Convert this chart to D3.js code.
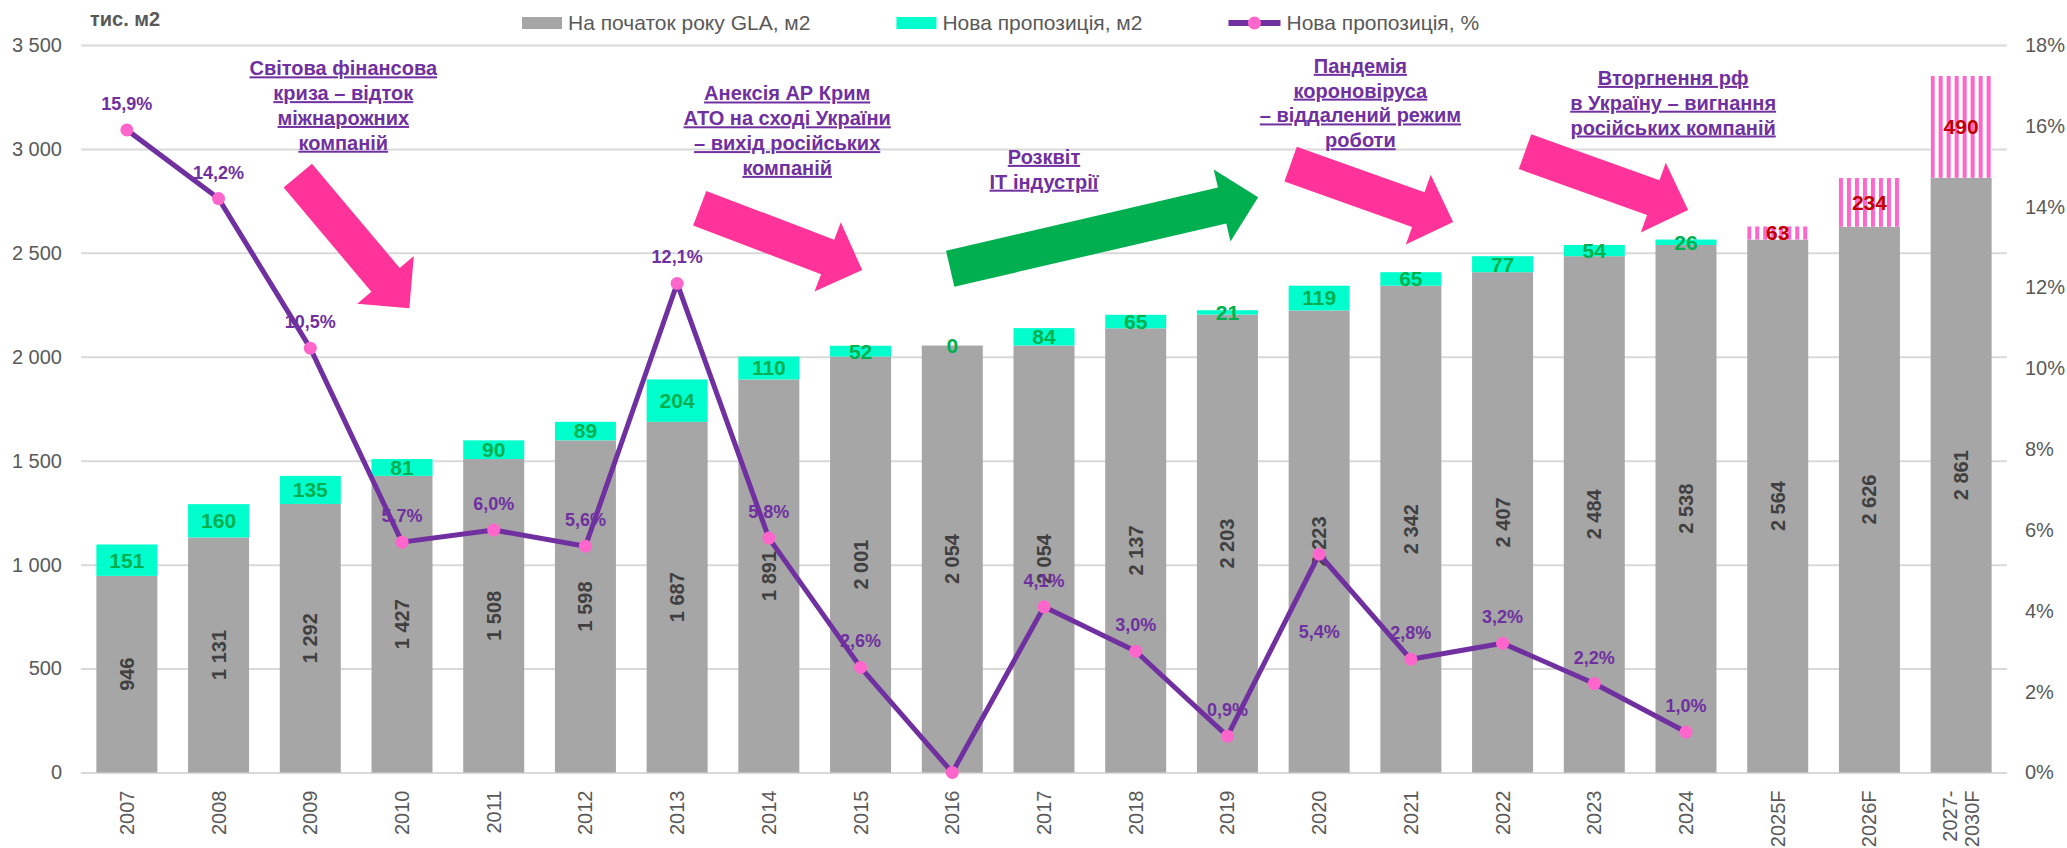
<!DOCTYPE html>
<html lang="uk">
<head>
    <meta charset="UTF-8">
    <title>Офісна пропозиція</title>
    <script src="https://cdnjs.cloudflare.com/ajax/libs/d3/7.8.5/d3.min.js"></script>
    <style>
        body { margin: 0; background: #fff; }
        svg { display: block; font-family: 'Liberation Sans', Arial, sans-serif; }
    </style>
</head>
<body>
    <div class="chart"></div>
<script>
    const categories = ['2007', '2008', '2009', '2010', '2011', '2012', '2013', '2014', '2015', '2016',
        '2017', '2018', '2019', '2020', '2021', '2022', '2023', '2024', '2025F', '2026F', '2027-2030F']
    const baseGLA = [946, 1131, 1292, 1427, 1508, 1598, 1687, 1891, 2001, 2054,
        2054, 2137, 2203, 2223, 2342, 2407, 2484, 2538, 2564, 2626, 2861]
    const newSupply = [151, 160, 135, 81, 90, 89, 204, 110, 52, 0, 84, 65, 21, 119, 65, 77, 54, 26]
    const forecastSupply = [63, 234, 490]
    const newSharePct = [15.9, 14.2, 10.5, 5.7, 6.0, 5.6, 12.1, 5.8, 2.6, 0, 4.1, 3.0, 0.9, 5.4, 2.8, 3.2, 2.2, 1.0]
    const leftTicks = [0, 500, 1000, 1500, 2000, 2500, 3000, 3500]
    const rightTicks = [0, 2, 4, 6, 8, 10, 12, 14, 16, 18]
    const legendLabels = ['На початок року GLA, м2', 'Нова пропозиція, м2', 'Нова пропозиція, %']

    // подiї на графiку: позиція в одиницях осей (індекс року, тис. м2)
    const notes = [
        { lines: ['Світова фінансова', 'криза – відток', 'міжнарожних', 'компаній'], at: [2.36, 3354] },
        { lines: ['Анексія АР Крим', 'АТО на сході України', '– вихід російських', 'компаній'], at: [7.2, 3233] },
        { lines: ['Розквіт', 'IT індустрії'], at: [10.0, 2928] },
        { lines: ['Пандемія', 'короновіруса', '– віддалений режим', 'роботи'], at: [13.45, 3366] },
        { lines: ['Вторгнення рф', 'в Україну – вигнання', 'російських компаній'], at: [16.86, 3308] }
    ]
    const arrows = [
        { from: [1.864, 2872], to: [3.08, 2234], color: '#FF3399' },
        { from: [6.246, 2715], to: [8.018, 2417], color: '#FF3399' },
        { from: [8.977, 2424], to: [12.335, 2768], color: '#00B050' },
        { from: [12.689, 2927], to: [14.461, 2648], color: '#FF3399' },
        { from: [15.245, 2987], to: [17.023, 2706], color: '#FF3399' }
    ]

    const width = 2067
    const height = 848
    const margin = { top: 45, right: 60, bottom: 75.5, left: 81 }
    const colors = { base: '#A6A6A6', add: '#00FFCC', stripe: '#FF66CC', line: '#7030A0', dot: '#FF66CC',
        grid: '#D9D9D9', axis: '#595959', addText: '#00B050', fcText: '#C00000', baseText: '#404040' }

    const locale = d3.formatLocale({ decimal: ',', thousands: '\u00a0', grouping: [3], currency: ['', ''] })
    const fmtInt = locale.format(',d')
    const fmtPct = v => locale.format('.1f')(v) + '%'

    const nFact = newSupply.length
    const rows = categories.map((c, i) => ({
        cat: c,
        base: baseGLA[i],
        add: i < nFact ? newSupply[i] : forecastSupply[i - nFact],
        forecast: i >= nFact
    }))
    const stacked = d3.stack().keys(['base', 'add'])(rows)

    const x = d3.scaleBand().domain(categories)
        .range([margin.left, width - margin.right])
        .paddingInner(0.335).paddingOuter(0.1675)
    const y = d3.scaleLinear().domain([0, 3500]).range([height - margin.bottom, margin.top])
    const y2 = d3.scaleLinear().domain([0, 18]).range([height - margin.bottom, margin.top])
    const cx = i => x(categories[0]) + x.bandwidth() / 2 + i * x.step()

    const svg = d3.select('.chart').append('svg')
        .attr('width', width).attr('height', height)

    // штрихування для прогнозу
    const defs = svg.append('defs')
    defs.selectAll('pattern').data(rows.filter(d => d.forecast)).join('pattern')
        .attr('id', (d, i) => 'stripes' + i)
        .attr('patternUnits', 'userSpaceOnUse')
        .attr('x', d => x(d.cat)).attr('width', 8).attr('height', 8)
        .call(p => {
            p.append('rect').attr('width', 8).attr('height', 8).attr('fill', '#fff')
            p.append('rect').attr('width', 4).attr('height', 8).attr('fill', colors.stripe)
        })

    // ліва вісь + сітка
    svg.append('g')
        .attr('transform', `translate(${margin.left},0)`)
        .call(d3.axisLeft(y).tickValues(leftTicks).tickFormat(fmtInt)
            .tickSizeInner(-(width - margin.left - margin.right)).tickSizeOuter(0).tickPadding(19))
        .call(g => g.select('.domain').remove())
        .call(g => g.selectAll('line').attr('stroke', colors.grid).attr('stroke-width', 2))
        .call(g => g.selectAll('text').attr('fill', colors.axis).attr('font-size', 20))

    // права вісь
    svg.append('g')
        .attr('transform', `translate(${width - margin.right},0)`)
        .call(d3.axisRight(y2).tickValues(rightTicks).tickFormat(d => d + '%').tickSize(0).tickPadding(18))
        .call(g => g.select('.domain').remove())
        .call(g => g.selectAll('text').attr('fill', colors.axis).attr('font-size', 20))

    // нижня вісь
    svg.append('g')
        .attr('transform', `translate(0,${height - margin.bottom})`)
        .call(d3.axisBottom(x).tickSize(0))
        .call(g => g.select('.domain').remove())
        .call(g => g.selectAll('text')
            .attr('fill', colors.axis).attr('font-size', 20)
            .attr('transform', 'rotate(-90)')
            .attr('text-anchor', 'end')
            .attr('x', -18).attr('y', 0).attr('dy', null)
            .each(function (d) {
                const parts = d.includes('-') ? [d.split('-')[0] + '-', d.split('-')[1]] : [d]
                const t = d3.select(this).text(null)
                parts.forEach((p, k) => {
                    t.append('tspan').attr('x', -18)
                        .attr('dy', k === 0 ? (parts.length > 1 ? '-0.2em' : '0.35em') : '1.1em')
                        .text(p)
                })
            }))

    // стовпці
    const bars = svg.append('g')
    bars.selectAll('rect.base').data(stacked[0]).join('rect')
        .attr('class', 'base')
        .attr('x', d => x(d.data.cat)).attr('width', x.bandwidth())
        .attr('y', d => y(d[1])).attr('height', d => y(d[0]) - y(d[1]))
        .attr('fill', colors.base)
    let fc = 0
    bars.selectAll('rect.add').data(stacked[1]).join('rect')
        .attr('class', 'add')
        .attr('x', d => x(d.data.cat)).attr('width', x.bandwidth())
        .attr('y', d => y(d[1])).attr('height', d => y(d[0]) - y(d[1]))
        .attr('fill', d => d.data.forecast ? `url(#stripes${fc++})` : colors.add)

    // підписи стовпців
    bars.selectAll('text.base').data(stacked[0]).join('text')
        .attr('class', 'base')
        .attr('transform', d => `translate(${x(d.data.cat) + x.bandwidth() / 2},${(y(d[0]) + y(d[1])) / 2}) rotate(-90)`)
        .attr('text-anchor', 'middle').attr('dy', '0.35em')
        .attr('font-size', 20).attr('font-weight', 'bold').attr('fill', colors.baseText)
        .text(d => fmtInt(d.data.base))
    bars.selectAll('text.add').data(stacked[1]).join('text')
        .attr('class', 'add')
        .attr('x', d => x(d.data.cat) + x.bandwidth() / 2)
        .attr('y', d => (y(d[0]) + y(d[1])) / 2)
        .attr('text-anchor', 'middle').attr('dy', '0.35em')
        .attr('font-size', 21).attr('font-weight', 'bold')
        .attr('fill', d => d.data.forecast ? colors.fcText : colors.addText)
        .text(d => fmtInt(d.data.add))

    // стрілки
    function arrowPath(a) {
        const x0 = cx(a.from[0]), y0 = y(a.from[1]), x1 = cx(a.to[0]), y1 = y(a.to[1])
        const len = Math.hypot(x1 - x0, y1 - y0)
        const ux = (x1 - x0) / len, uy = (y1 - y0) / len
        const nx = -uy, ny = ux
        const s = 18.5, hw = 37, hl = 37
        const bx = x1 - ux * hl, by = y1 - uy * hl
        const pts = [
            [x0 + nx * s, y0 + ny * s], [bx + nx * s, by + ny * s], [bx + nx * hw, by + ny * hw],
            [x1, y1],
            [bx - nx * hw, by - ny * hw], [bx - nx * s, by - ny * s], [x0 - nx * s, y0 - ny * s]
        ]
        return 'M' + pts.map(p => p.join(',')).join('L') + 'Z'
    }
    svg.append('g').selectAll('path').data(arrows).join('path')
        .attr('d', arrowPath).attr('fill', d => d.color)

    // лінія %
    const line = d3.line().x((d, i) => cx(i)).y(d => y2(d))
    svg.append('path').datum(newSharePct)
        .attr('d', line).attr('fill', 'none')
        .attr('stroke', colors.line).attr('stroke-width', 5).attr('stroke-linejoin', 'round')
    svg.append('g').selectAll('circle').data(newSharePct).join('circle')
        .attr('cx', (d, i) => cx(i)).attr('cy', d => y2(d)).attr('r', 6.5)
        .attr('fill', colors.dot)
    svg.append('g').selectAll('text').data(newSharePct).join('text')
        .filter(d => d > 0)
        .attr('x', (d, i) => cx(newSharePct.indexOf(d)))
        .attr('y', d => y2(d) + (d === newSharePct[categories.indexOf('2020')] ? 84 : -20))
        .attr('text-anchor', 'middle')
        .attr('font-size', 18).attr('font-weight', 'bold').attr('fill', colors.line)
        .text(fmtPct)

    // примітки
    const noteG = svg.append('g').selectAll('text').data(notes).join('text')
        .attr('text-anchor', 'middle')
        .attr('font-size', 20).attr('font-weight', 'bold').attr('fill', colors.line)
        .attr('text-decoration', 'underline')
    noteG.each(function (d) {
        const t = d3.select(this)
        d.lines.forEach((l, k) => {
            t.append('tspan').attr('x', cx(d.at[0])).attr('y', y(d.at[1]) + k * 24.8).text(l)
        })
    })

    // підпис одиниць
    svg.append('text').attr('x', 90).attr('y', 26)
        .attr('font-size', 20).attr('font-weight', 'bold').attr('fill', colors.axis)
        .text('тис. м2')

    // легенда
    const legend = svg.append('g').attr('transform', 'translate(522,23)')
    let lx = 0
    legendLabels.forEach((label, k) => {
        const g = legend.append('g').attr('transform', `translate(${lx},0)`)
        const sw = k === 2 ? 52 : 40
        if (k < 2) {
            g.append('rect').attr('y', -6).attr('width', sw).attr('height', 12)
                .attr('fill', k === 0 ? colors.base : colors.add)
        } else {
            g.append('line').attr('x1', 0).attr('x2', sw).attr('stroke', colors.line).attr('stroke-width', 6)
            g.append('circle').attr('cx', sw / 2).attr('r', 6.5).attr('fill', colors.dot)
        }
        const t = g.append('text').attr('x', sw + 6).attr('dy', '0.35em')
            .attr('font-size', 21).attr('fill', colors.axis).text(label)
        lx += sw + 6 + t.node().getComputedTextLength() + 86
    })
</script>
</body>
</html>
